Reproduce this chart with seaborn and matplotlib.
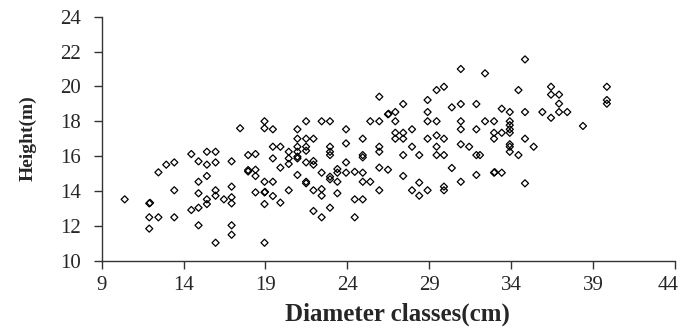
import matplotlib
matplotlib.use("Agg")
import matplotlib.pyplot as plt
import matplotlib.transforms as mtransforms
import seaborn as sns
import pandas as pd

# Valores (diámetro, altura)
diameter = [
    10.4, 11.9, 11.95, 11.9, 12.46, 11.9, 12.46, 12.94, 13.43, 13.43, 13.43,
    14.47, 14.91, 14.91, 14.91, 14.47, 14.91, 14.91, 15.42, 15.95, 15.42, 15.95,
    15.42, 15.42, 15.42, 15.95, 15.95, 15.95, 16.46, 16.93, 16.93, 16.93, 16.93,
    16.93, 16.93, 17.45, 17.94, 18.39, 17.94, 17.94, 18.39, 18.39, 18.39,
    18.94, 18.94, 19.45, 19.45, 19.91, 18.94, 19.45, 18.94, 18.97, 18.94, 19.45,
    19.91, 18.94, 19.45, 19.91, 20.42, 20.42, 20.42, 20.42, 20.95, 20.95, 20.95,
    20.95, 20.95, 20.95, 20.95, 21.48, 21.48, 21.48, 21.48, 21.48, 21.48, 21.48,
    21.93, 21.93, 21.93, 21.93, 21.93, 22.43, 22.43, 22.43, 22.43, 22.43,
    22.94, 22.94, 22.94, 22.94, 22.94, 22.94, 22.94, 23.39, 23.39, 23.39, 23.39,
    23.92, 23.92, 23.92, 23.92, 24.45, 24.45, 24.45, 24.94, 24.94, 24.94, 24.94,
    24.94, 24.94, 25.4, 25.4, 25.95, 25.95, 25.95, 25.95, 25.95, 25.95,
    26.48, 26.52, 26.48, 26.93, 26.93, 26.93, 26.93,
    27.41, 27.41, 27.41, 27.95, 27.95, 27.41, 28.39, 27.41, 28.39, 27.95, 28.39,
    28.9, 28.9, 28.9, 28.9, 29.45, 29.45, 29.9, 28.9, 29.45, 29.9, 29.45, 29.45,
    29.9, 29.9, 29.9, 30.38, 30.38, 30.93, 30.93, 30.93, 30.93, 30.93, 30.93,
    31.44, 31.88, 31.88, 31.88, 32.1, 31.88, 32.41, 32.41, 32.96, 32.96, 32.96,
    32.96, 33.0, 33.43, 33.43, 33.43, 33.92, 33.92, 33.92, 33.92, 33.92, 33.92,
    33.92, 33.92, 34.45, 34.45, 34.85, 34.85, 34.85, 34.85, 35.38,
    35.91, 36.44, 36.44, 36.93, 36.93, 36.44, 36.93, 37.43, 38.39,
    39.85, 39.85, 39.85,
]
height = [
    13.52, 13.29, 13.32, 12.49, 12.49, 11.84, 15.07, 15.51, 15.64, 14.04, 12.49,
    16.12, 15.70, 14.53, 13.87, 12.91, 13.04, 12.03, 16.25, 16.25, 15.51, 15.64,
    14.86, 13.52, 13.25, 14.04, 13.73, 11.03, 13.52, 15.70, 14.25, 13.64, 13.29,
    12.03, 11.49, 17.60, 16.06, 16.12, 15.20, 15.12, 15.22, 14.86, 13.92,
    18.00, 17.60, 17.54, 16.54, 16.54, 14.53, 14.53, 13.92, 13.95, 13.25, 13.71,
    13.33, 11.03, 15.87, 15.34, 16.25, 15.87, 15.55, 14.04, 17.54, 17.00, 16.54,
    16.25, 15.97, 15.87, 14.92, 18.00, 17.00, 16.54, 16.31, 15.64, 14.53, 14.44,
    17.00, 15.72, 15.51, 14.04, 12.85, 18.00, 15.05, 14.11, 13.73, 12.49,
    18.00, 16.54, 16.25, 16.06, 14.82, 14.67, 13.04, 15.26, 15.05, 14.53, 13.87,
    17.54, 16.73, 15.64, 15.05, 15.10, 13.52, 12.49, 17.00, 16.06, 15.93, 15.05,
    14.53, 13.52, 18.00, 14.53, 19.41, 18.00, 16.54, 16.25, 15.34, 14.04,
    18.40, 18.43, 15.22, 18.53, 18.00, 17.34, 17.00,
    18.99, 17.34, 17.00, 17.54, 16.54, 16.06, 16.06, 14.86, 14.48, 14.04, 13.73,
    14.04, 19.22, 18.53, 18.00, 18.00, 19.79, 19.98, 17.00, 17.19, 17.00, 16.54,
    16.06, 16.06, 14.25, 14.04, 18.80, 15.32, 21.00, 18.99, 18.00, 17.54, 16.68,
    14.53, 16.54, 18.99, 17.54, 16.06, 16.06, 14.92, 20.75, 18.00, 18.00, 17.34,
    17.00, 15.05, 15.08, 17.34, 15.05, 18.72, 18.53, 18.00, 17.78, 17.54, 17.34,
    16.68, 16.54, 16.25, 19.79, 16.06, 21.55, 18.53, 17.00, 14.44, 16.54,
    18.53, 19.98, 19.53, 19.53, 19.01, 18.20, 18.53, 18.53, 17.73,
    19.98, 19.22, 19.01,
]
x_ticks = [9, 14, 19, 24, 29, 34, 39, 44]
y_ticks = [10, 12, 14, 16, 18, 20, 22, 24]

sns.set_style("ticks")
plt.rcParams["font.family"] = ["Liberation Serif", "DejaVu Serif"]

df = pd.DataFrame({"Diameter": diameter, "Height": height})

fig = plt.figure(figsize=(6.83, 3.29), dpi=100)
ax = fig.add_axes([0.149, 0.2076, 0.839, 0.7416])

sns.scatterplot(data=df, x="Diameter", y="Height", ax=ax, marker="D", s=13,
                facecolor="none", edgecolor="black", linewidth=0.9)

ax.set_xlim(9, 44)
ax.set_ylim(10, 24)
ax.set_xticks(x_ticks)
ax.set_yticks(y_ticks)
ax.tick_params(axis="both", direction="out", length=6, width=1, color="#333333",
               labelsize=15)
ax.tick_params(axis="x", pad=5)
ax.tick_params(axis="y", pad=9)

# la última etiqueta del eje x queda pegada al borde: correrla un poco
last = ax.get_xticklabels()[-1]
last.set_transform(last.get_transform() +
                   mtransforms.ScaledTranslation(-5 / 72, 0, fig.dpi_scale_trans))

for side in ["top", "right"]:
    ax.spines[side].set_visible(False)
for side in ["left", "bottom"]:
    ax.spines[side].set_color("#333333")
    ax.spines[side].set_linewidth(1)

ax.set_xlabel("Diameter classes(cm)", fontsize=18, fontweight="bold")
ax.set_ylabel("Height(m)", fontsize=14, fontweight="bold")
ax.xaxis.set_label_coords(0.516, -0.17)
ax.yaxis.set_label_coords(-0.113, 0.503)

fig.savefig("out.png", dpi=100)
